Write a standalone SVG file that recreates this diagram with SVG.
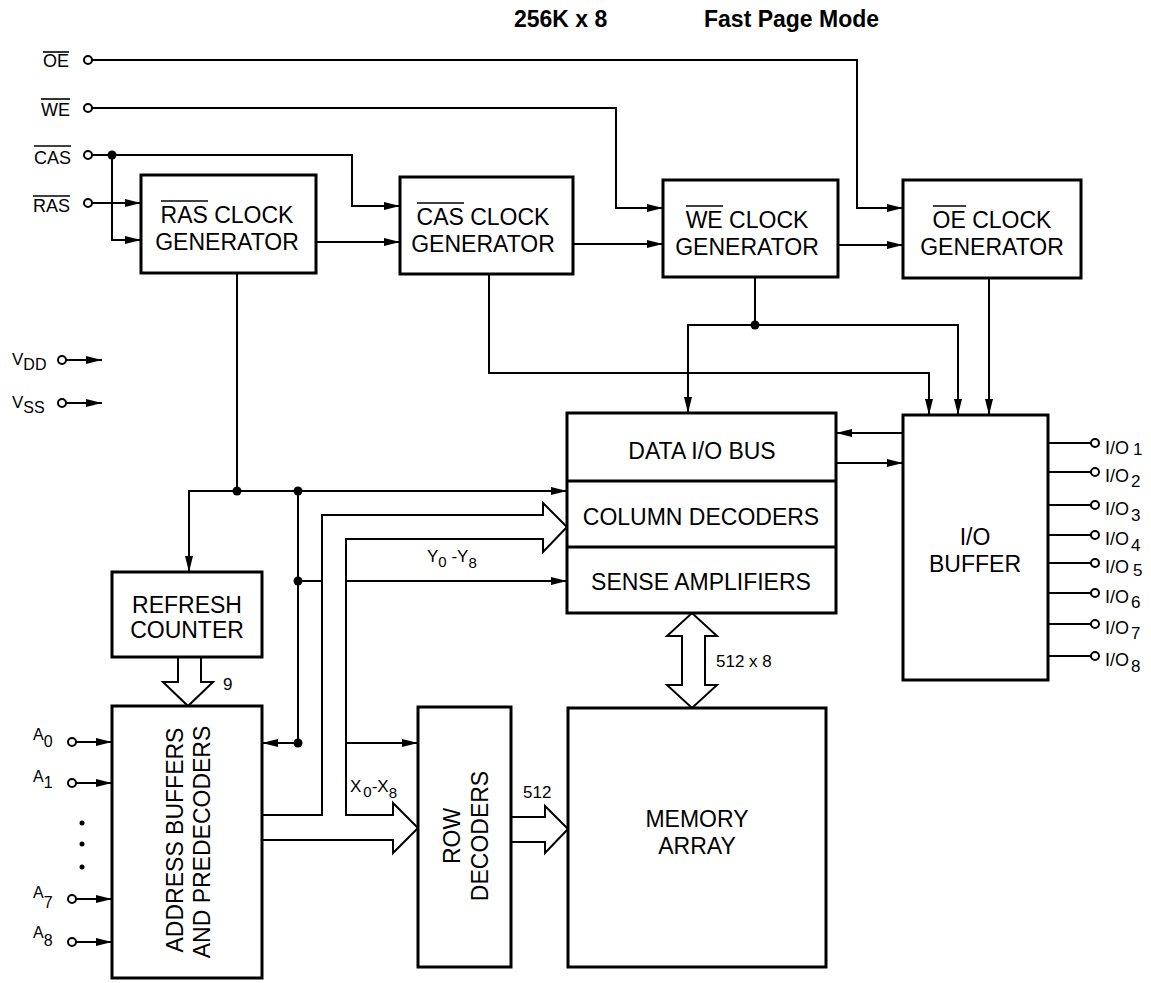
<svg xmlns="http://www.w3.org/2000/svg" width="1151" height="983" viewBox="0 0 1151 983">
<defs>
<style>
.box{fill:#fff;stroke:#000;stroke-width:3}
.ln{fill:none;stroke:#000;stroke-width:2}
.arr{fill:none;stroke:#000;stroke-width:2;marker-end:url(#ah)}
.bus{fill:#fff;stroke:#000;stroke-width:2;stroke-linejoin:miter}
.pin{fill:#fff;stroke:#000;stroke-width:2}
.dot{fill:#000}
.bar{stroke:#000;stroke-width:1.6}
text{font-family:"Liberation Sans",Arial,Helvetica,sans-serif;fill:#000}
.t{font-size:23px;text-anchor:middle}
.lbl{font-size:18px}
.sm{font-size:17px}
.ttl{font-size:23px;font-weight:bold}
</style>
<marker id="ah" viewBox="0 0 16 8" refX="16" refY="4" markerWidth="16" markerHeight="8" markerUnits="userSpaceOnUse" orient="auto">
<path d="M0,0 L16,4 L0,8 z" fill="#000"/>
</marker>
</defs>
<rect width="1151" height="983" fill="#fff"/>

<g id="title">
<text class="ttl" x="514" y="27">256K x 8</text>
<text class="ttl" x="704" y="27">Fast Page Mode</text>
</g>

<g id="connectors">
<path class="arr" d="M92,60 H857 V208 H903"/>
<path class="arr" d="M92,108 H616 V208 H663"/>
<path class="arr" d="M92,155 H352 V206 H400"/>
<path class="arr" d="M112,155 V240 H141"/>
<path class="arr" d="M92,203 H141"/>
<circle class="dot" cx="112" cy="155" r="4.5"/>
<path class="arr" d="M316,242 H400"/>
<path class="arr" d="M573,244 H663"/>
<path class="arr" d="M838,245 H903"/>
<path class="ln" d="M237,273 V491"/>
<path class="arr" d="M237,491 H189 V572"/>
<path class="arr" d="M237,491 H567"/>
<path class="ln" d="M298,491 V743"/>
<path class="ln" d="M298,581 H322"/>
<path class="arr" d="M346,581 H567"/>
<path class="arr" d="M298,743 H262"/>
<path class="arr" d="M346,743 H418"/>
<circle class="dot" cx="237" cy="491" r="4.5"/>
<circle class="dot" cx="298" cy="491" r="4.5"/>
<circle class="dot" cx="298" cy="581" r="4.5"/>
<circle class="dot" cx="298" cy="743" r="4.5"/>
<path class="arr" d="M489,274 V373 H929 V415"/>
<path class="ln" d="M755,277 V325"/>
<path class="arr" d="M755,325 H688 V413"/>
<path class="arr" d="M755,325 H958 V415"/>
<circle class="dot" cx="755" cy="325" r="4.5"/>
<path class="arr" d="M989,278 V415"/>
<path class="arr" d="M903,433 H836"/>
<path class="arr" d="M836,463 H903"/>
<path class="bus" style="fill:none" d="M262,815 H322 V515 H543 V503 L567,527 L543,552 V539 H346 V815 H393 V803 L418,828 L393,853 V840 H262"/>
<path class="bus" d="M178,657 V682 H163 L188,706 L213,682 H201 V657"/>
<path class="bus" d="M511,817 H545 V806 L568,829 L545,853 V842 H511"/>
<path class="bus" d="M682,636 V685 H667 L692,708 L717,685 H705 V636 H717 L692,613 L667,636 Z"/>
<text class="sm" x="223" y="690">9</text>
<text class="sm" x="523" y="798">512</text>
<text class="sm" x="716" y="667">512 x 8</text>
<text class="sm" x="427" y="562">Y<tspan dy="5" font-size="15">0</tspan><tspan dy="-5"> -Y</tspan><tspan dy="6" font-size="15">8</tspan></text>
<text class="sm" x="350" y="792">X<tspan dx="2" dy="5" font-size="15">0</tspan><tspan dy="-5">-X</tspan><tspan dy="6" font-size="15">8</tspan></text>
</g>

<g id="pins-control">
<text class="lbl" x="69" y="67" text-anchor="end">OE</text>
<line class="bar" x1="43" y1="52" x2="69" y2="52"/>
<circle class="pin" cx="88" cy="60" r="4"/>
<text class="lbl" x="70" y="116" text-anchor="end">WE</text>
<line class="bar" x1="41" y1="99" x2="70" y2="99"/>
<circle class="pin" cx="88" cy="108" r="4"/>
<text class="lbl" x="71" y="164" text-anchor="end">CAS</text>
<line class="bar" x1="34" y1="146" x2="71" y2="146"/>
<circle class="pin" cx="88" cy="155" r="4"/>
<text class="lbl" x="70" y="212" text-anchor="end">RAS</text>
<line class="bar" x1="33" y1="196" x2="70" y2="196"/>
<circle class="pin" cx="88" cy="203" r="4"/>
</g>

<g id="pins-power">
<text class="sm" x="12" y="365">V<tspan dy="5" font-size="16">DD</tspan></text>
<path class="arr" d="M66,360 H102"/>
<circle class="pin" cx="62" cy="360" r="4"/>
<text class="sm" x="12" y="408">V<tspan dy="5" font-size="16">SS</tspan></text>
<path class="arr" d="M66,403 H102"/>
<circle class="pin" cx="62" cy="403" r="4"/>
</g>

<g id="pins-address">
<text x="33" y="740" font-size="16">A<tspan dy="7" font-size="16">0</tspan></text>
<path class="arr" d="M76,742 H112"/>
<circle class="pin" cx="72" cy="742" r="4"/>
<text x="33" y="782" font-size="16">A<tspan dy="6" font-size="16">1</tspan></text>
<path class="arr" d="M76,783 H112"/>
<circle class="pin" cx="72" cy="783" r="4"/>
<circle class="dot" cx="82" cy="823" r="2.5"/>
<circle class="dot" cx="82" cy="844" r="2.5"/>
<circle class="dot" cx="82" cy="867" r="2.5"/>
<text x="33" y="898" font-size="16">A<tspan dy="10" font-size="16">7</tspan></text>
<path class="arr" d="M76,899 H112"/>
<circle class="pin" cx="72" cy="899" r="4"/>
<text x="33" y="938" font-size="16">A<tspan dy="8" font-size="16">8</tspan></text>
<path class="arr" d="M76,942 H112"/>
<circle class="pin" cx="72" cy="942" r="4"/>
</g>

<g id="pins-io">
<path class="ln" d="M1048,443 H1091 M1048,472 H1091 M1048,505 H1091 M1048,535 H1091 M1048,563 H1091 M1048,593 H1091 M1048,624 H1091 M1048,656 H1091"/>
<circle class="pin" cx="1095" cy="443" r="4"/>
<circle class="pin" cx="1095" cy="472" r="4"/>
<circle class="pin" cx="1095" cy="505" r="4"/>
<circle class="pin" cx="1095" cy="535" r="4"/>
<circle class="pin" cx="1095" cy="563" r="4"/>
<circle class="pin" cx="1095" cy="593" r="4"/>
<circle class="pin" cx="1095" cy="624" r="4"/>
<circle class="pin" cx="1095" cy="656" r="4"/>
<text class="lbl" x="1105" y="454">I/O<tspan dx="4" dy="1" font-size="17">1</tspan></text>
<text class="lbl" x="1105" y="482">I/O<tspan dx="2" dy="5" font-size="17">2</tspan></text>
<text class="lbl" x="1105" y="515">I/O<tspan dx="2" dy="6" font-size="17">3</tspan></text>
<text class="lbl" x="1105" y="545">I/O<tspan dx="2" dy="6" font-size="17">4</tspan></text>
<text class="lbl" x="1105" y="573">I/O<tspan dx="4" dy="3" font-size="17">5</tspan></text>
<text class="lbl" x="1105" y="603">I/O<tspan dx="2" dy="5" font-size="17">6</tspan></text>
<text class="lbl" x="1105" y="634">I/O<tspan dx="2" dy="5" font-size="17">7</tspan></text>
<text class="lbl" x="1105" y="666">I/O<tspan dx="2" dy="6" font-size="17">8</tspan></text>
</g>

<g id="ras-clock">
<rect class="box" x="141" y="175" width="175" height="98"/>
<text class="t" x="227" y="223">RAS CLOCK</text>
<line class="bar" x1="161" y1="201" x2="208" y2="201"/>
<text class="t" x="227" y="250">GENERATOR</text>
</g>

<g id="cas-clock">
<rect class="box" x="400" y="177" width="173" height="97"/>
<text class="t" x="483" y="225">CAS CLOCK</text>
<line class="bar" x1="417" y1="203" x2="464" y2="203"/>
<text class="t" x="483" y="252">GENERATOR</text>
</g>

<g id="we-clock">
<rect class="box" x="663" y="180" width="175" height="97"/>
<text class="t" x="747" y="228">WE CLOCK</text>
<line class="bar" x1="686" y1="206" x2="723" y2="206"/>
<text class="t" x="747" y="255">GENERATOR</text>
</g>

<g id="oe-clock">
<rect class="box" x="903" y="180" width="178" height="98"/>
<text class="t" x="992" y="228">OE CLOCK</text>
<line class="bar" x1="933" y1="206" x2="966" y2="206"/>
<text class="t" x="992" y="255">GENERATOR</text>
</g>

<g id="data-io-bus">
<rect class="box" x="567" y="413" width="269" height="200"/>
<line class="bar" x1="567" y1="481" x2="836" y2="481" style="stroke-width:3"/>
<line class="bar" x1="567" y1="547" x2="836" y2="547" style="stroke-width:3"/>
<text class="t" x="702" y="459">DATA I/O BUS</text>
<text class="t" x="701" y="525">COLUMN DECODERS</text>
<text class="t" x="701" y="590">SENSE AMPLIFIERS</text>
</g>

<g id="io-buffer">
<rect class="box" x="903" y="415" width="145" height="265"/>
<text class="t" x="975" y="545">I/O</text>
<text class="t" x="975" y="572">BUFFER</text>
</g>

<g id="refresh-counter">
<rect class="box" x="112" y="572" width="150" height="85"/>
<text class="t" x="187" y="613">REFRESH</text>
<text class="t" x="187" y="638">COUNTER</text>
</g>

<g id="address-buffers">
<rect class="box" x="112" y="706" width="150" height="272"/>
<text class="t" transform="translate(183,840) rotate(-90)">ADDRESS BUFFERS</text>
<text class="t" transform="translate(210,842) rotate(-90)">AND PREDECODERS</text>
</g>

<g id="row-decoders">
<rect class="box" x="418" y="707" width="93" height="260"/>
<text class="t" transform="translate(460,836) rotate(-90)">ROW</text>
<text class="t" transform="translate(488,836) rotate(-90)">DECODERS</text>
</g>

<g id="memory-array">
<rect class="box" x="568" y="708" width="258" height="259"/>
<text class="t" x="697" y="827">MEMORY</text>
<text class="t" x="697" y="854">ARRAY</text>
</g>
</svg>
